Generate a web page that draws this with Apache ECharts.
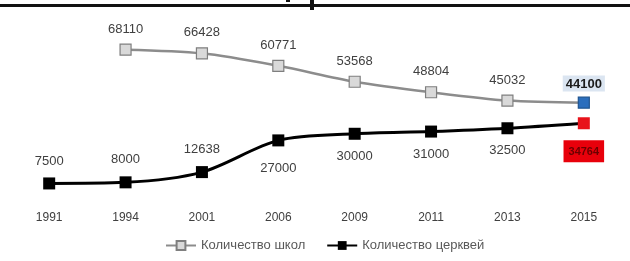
<!DOCTYPE html>
<html>
<head>
<meta charset="utf-8">
<script src="https://cdn.jsdelivr.net/npm/echarts@6/dist/echarts.min.js"></script>
<style>
  html, body { margin: 0; padding: 0; background: #fff; }
  #chart { width: 630px; height: 261px; }
</style>
</head>
<body>
<div id="chart"></div>
<script>
const years = ['1991', '1994', '2001', '2006', '2009', '2011', '2013', '2015']
const schools = ['-', 68110, 66428, 60771, 53568, 48804, 45032, 44100]
const churches = [7500, 8000, 12638, 27000, 30000, 31000, 32500, 34764]
const schoolName = 'Количество школ'
const churchName = 'Количество церквей'

const font = 'Liberation Sans'
const last = years.length - 1

const schoolData = schools.map((v, i) => {
  if (i !== last) return v
  return {
    value: v,
    itemStyle: { color: '#2a6ebd', borderColor: '#1f5591' },
    label: {
      fontWeight: 'bold',
      color: '#1a1a1a',
      backgroundColor: '#dbe5f1',
      padding: [2, 3, 1, 3],
      distance: 5
    }
  }
})

const churchData = churches.map((v, i) => {
  const item = { value: v, label: { position: i < 3 ? 'top' : 'bottom' } }
  if (i === 3) item.label.distance = 16
  if (i === last) {
    item.itemStyle = { color: '#e8131b' }
    item.label = {
      position: 'bottom',
      distance: 11,
      fontWeight: 'bold',
      fontSize: 11,
      color: '#6b0000',
      backgroundColor: '#e8000b',
      padding: [6, 5, 5, 5]
    }
  }
  return item
})

const chart = echarts.init(document.getElementById('chart'))
chart.setOption({
  animation: false,
  textStyle: { fontFamily: font },
  grid: { left: 11, right: 8, top: 23.4, bottom: 61 },
  legend: {
    bottom: 4,
    left: 160,
    itemWidth: 30,
    itemHeight: 11,
    itemGap: 21,
    textStyle: { color: '#595959', fontSize: 13, fontFamily: font },
    data: [schoolName, churchName]
  },
  xAxis: {
    type: 'category',
    data: years,
    axisLine: { show: false },
    axisTick: { show: false },
    axisLabel: { color: '#404040', fontSize: 12, margin: 12 }
  },
  yAxis: {
    type: 'value',
    min: 0,
    max: 80000,
    show: false,
    splitLine: { show: false }
  },
  graphic: [
    { type: 'rect', shape: { x: 0, y: 4, width: 630, height: 3 }, style: { fill: '#111' } },
    { type: 'rect', shape: { x: 310, y: 0, width: 4, height: 10 }, style: { fill: '#111' } },
    { type: 'rect', shape: { x: 286, y: 0, width: 4, height: 2 }, style: { fill: '#111' } }
  ],
  series: [
    {
      name: schoolName,
      type: 'line',
      smooth: 0.3,
      data: schoolData,
      symbol: 'rect',
      symbolSize: 11,
      lineStyle: { color: '#8c8c8c', width: 2.5 },
      itemStyle: { color: '#d9d9d9', borderColor: '#7f7f7f', borderWidth: 1.2 },
      label: { show: true, position: 'top', distance: 8, color: '#404040', fontSize: 13 }
    },
    {
      name: churchName,
      type: 'line',
      smooth: 0.3,
      data: churchData,
      symbol: 'rect',
      symbolSize: 12,
      lineStyle: { color: '#000', width: 3 },
      itemStyle: { color: '#000' },
      label: { show: true, distance: 10, color: '#404040', fontSize: 13 }
    }
  ]
})
</script>
</body>
</html>
